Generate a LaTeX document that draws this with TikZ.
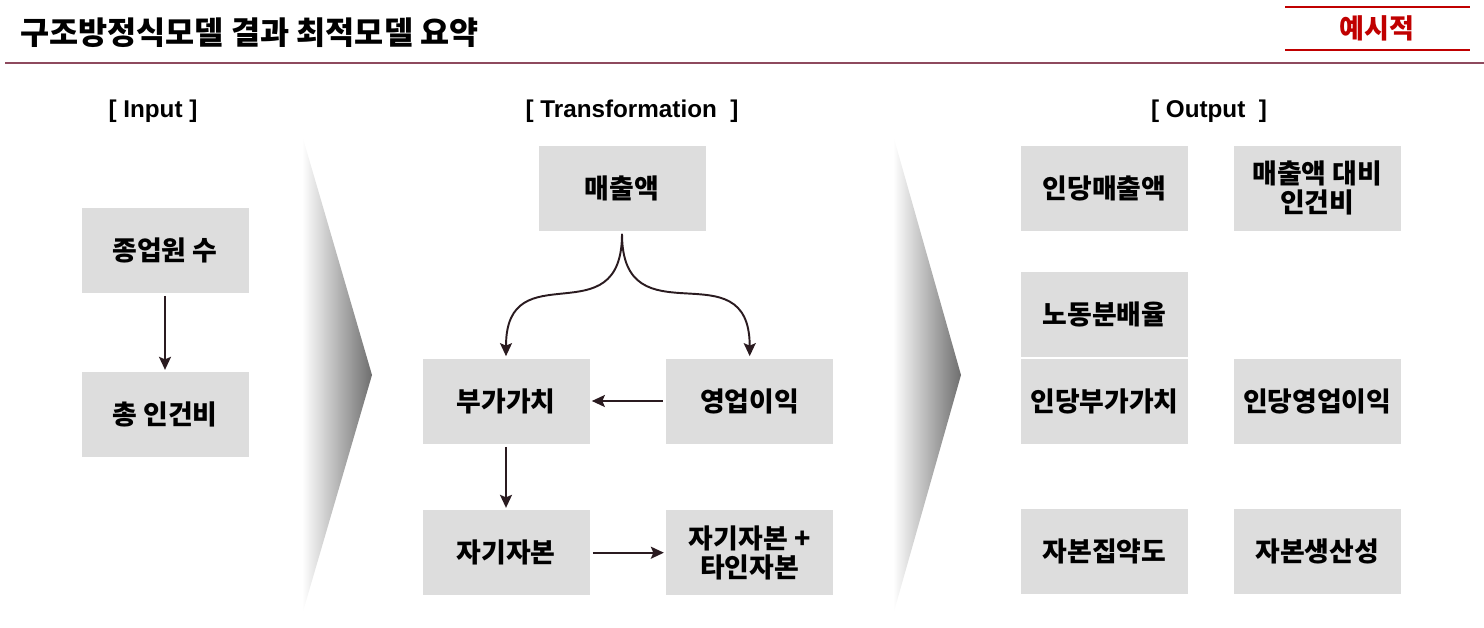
\documentclass[tikz,border=0pt]{standalone}
\usepackage{fontspec}
\setmainfont{Liberation Sans}
\newfontfamily\kr{Noto Sans CJK KR}
\usepackage{tikz}
\usetikzlibrary{arrows.meta, positioning}
\definecolor{boxgray}{HTML}{DDDDDD}
\definecolor{arrowdark}{HTML}{2A1B20}
\definecolor{chevgray}{HTML}{6E6E6E}
\definecolor{tagred}{HTML}{C00000}
\definecolor{rulemaroon}{HTML}{8E4A5E}

\begin{document}
\begin{tikzpicture}[node distance=1.52cm,
        box/.style={rectangle, fill=boxgray, minimum width=3.34cm, minimum height=1.70cm, inner sep=0pt, align=center, font=\kr\fontsize{15.3}{16.5}\selectfont\bfseries},
        head/.style={font=\fontsize{13.8}{16}\selectfont\bfseries},
        arrow/.style={-{Stealth[length=0.26cm, width=0.24cm, inset=0.05cm]}, line width=1.1pt, draw=arrowdark, shorten >=0.04cm, shorten <=0.06cm}]
        \useasboundingbox (0,0) rectangle (29.68,-12.56);

        % title bar
        \node[anchor=west, inner sep=0pt, font=\kr\fontsize{18}{20}\selectfont\bfseries] (title) at (0.40,-0.66) {구조방정식모델 결과 최적모델 요약};
        \draw[rulemaroon, line width=1.1pt] (0.10,-1.26) -- (29.68,-1.26);
        \draw[tagred, line width=1.7pt] (25.70,-0.14) -- (29.40,-0.14);
        \draw[tagred, line width=1.7pt] (25.70,-1.00) -- (29.40,-1.00);
        \node[text=tagred, font=\kr\fontsize{15.4}{16}\selectfont\bfseries] (tag) at (27.54,-0.56) {예시적};

        % chevrons
        \shade[left color=white, right color=chevgray] (6.04,-2.70) -- (7.44,-7.50) -- (6.04,-12.30) -- cycle;
        \shade[left color=white, right color=chevgray] (17.86,-2.70) -- (19.22,-7.50) -- (17.86,-12.30) -- cycle;

        % headers
        \node[head] (hin) at (3.06,-2.22) {[ Input ]};
        \node[head] (htr) at (12.64,-2.22) {[ Transformation ~]};
        \node[head] (hout) at (24.18,-2.22) {[ Output ~]};

        % input
        \node[box] (emp) at (3.30,-5.00) {종업원 수};
        \node[box, below=1.58cm of emp] (cost) {총 인건비};

        % transformation
        \node[box] (sales) at (12.44,-3.76) {매출액};
        \node[box] (va) at (10.12,-8.02) {부가가치};
        \node[box, right=of va] (op) {영업이익};
        \node[box, below=1.32cm of va] (eq) {자기자본};
        \node[box, right=of eq] (eqdebt) {자기자본 +\\타인자본};

        % output
        \node[box] (spc) at (22.09,-3.76) {인당매출액};
        \node[box, right=0.9cm of spc] (costr) {매출액 대비\\인건비};
        \node[box] (labor) at (22.09,-6.28) {노동분배율};
        \node[box] (vapc) at (22.09,-8.02) {인당부가가치};
        \node[box, right=0.9cm of vapc] (oppc) {인당영업이익};
        \node[box] (capint) at (22.09,-11.02) {자본집약도};
        \node[box, right=0.9cm of capint] (capprod) {자본생산성};

        \draw[arrow] (emp) -- (cost);
        \draw[arrow] (sales.south) to[out=-90, in=90, looseness=1.6] (va.north);
        \draw[arrow] (sales.south) to[out=-90, in=90, looseness=1.6] (op.north);
        \draw[arrow] (op) -- (va);
        \draw[arrow] (va) -- (eq);
        \draw[arrow] (eq) -- (eqdebt);
    \end{tikzpicture}
\end{document}
